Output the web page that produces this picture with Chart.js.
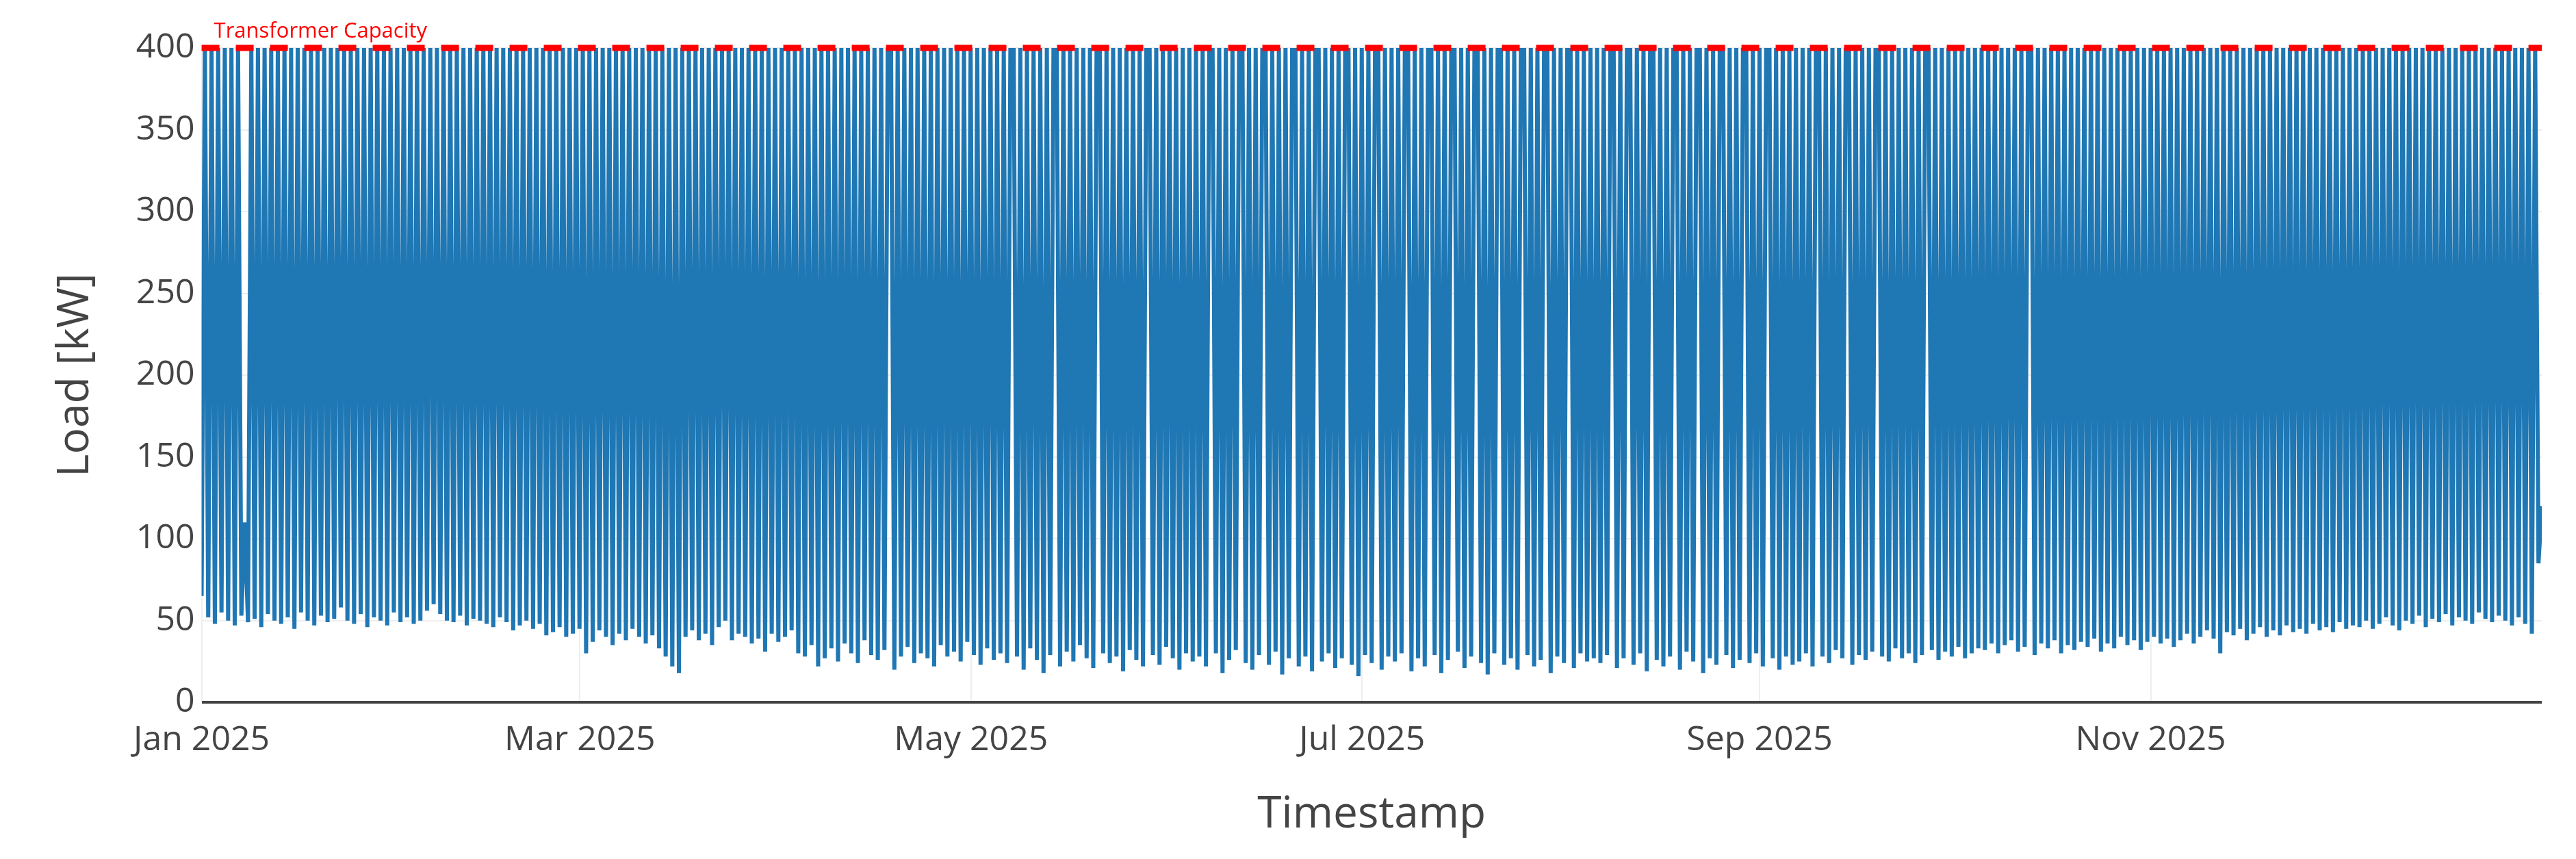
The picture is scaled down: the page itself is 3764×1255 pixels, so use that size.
<!DOCTYPE html>
<html><head><meta charset="utf-8">
<script src="https://cdn.jsdelivr.net/npm/chart.js@4/dist/chart.umd.min.js"></script>
<style>html,body{margin:0;background:#fff}#wrap{width:3764px;height:1255px}</style>
</head><body><div id="wrap"><canvas id="c"></canvas></div>
<script>
const capacity = 400;
const tickDays = [0, 59, 120, 181, 243, 304];
const tickLabels = ["Jan 2025","Mar 2025","May 2025","Jul 2025","Sep 2025","Nov 2025"];
// load samples (kW), roughly twice a day, read by eye
const jan = [65,400,52,400,48,400,55,400,50,400,47,400,53,110,49,400,51,400,46,400,54,400,50,400,48,400,52,400,45,400,55,400,50,400,47,400,53,400,49,400,51,400,58,400,50,400,48,400,54,400,46,400,52,400,50,400,47,400,55,400,49,400];
const feb = [52,400,48,400,50,400,56,400,60,400,54,400,50,400,49,400,53,400,47,400,51,400,50,400,48,400,46,400,52,400,49,400,44,400,47,400,50,400,45,400,48,400,41,400,43,400,46,400,40,400,42,400,45,400];
const mar = [30,400,37,400,44,400,40,400,35,400,42,400,38,400,45,400,40,400,36,400,41,400,33,400,28,400,22,400,18,400,40,400,44,400,38,400,42,400,35,400,46,400,50,400,38,400,42,400,40,400,36,400,39,400,31,400,42,400,37,400,40,400,44,400];
const apr = [30,400,28,400,35,400,22,400,27,400,33,400,25,400,36,400,30,400,24,400,38,400,29,400,26,400,32,400,400,20,400,28,400,34,400,24,400,30,400,27,400,22,400,35,400,28,400,31,400,25,400,37,400,29,400,23,400,33,400,26,400];
const may = [30,400,24,400,400,28,400,20,400,33,400,26,400,18,400,29,400,400,22,400,31,400,25,400,35,400,27,400,21,400,400,30,400,24,400,28,400,19,400,32,400,26,400,22,400,400,29,400,23,400,34,400,27,400,20,400,30,400,25,400];
const jun = [28,400,22,400,400,30,400,18,400,26,400,32,400,400,24,400,20,400,29,400,400,23,400,31,400,17,400,27,400,400,22,400,28,400,19,400,400,25,400,30,400,21,400,27,400,400,23,400,16,400,29,400,24,400,400,20,400,28,400];
const jul = [25,400,30,400,400,19,400,27,400,22,400,400,29,400,18,400,26,400,400,31,400,21,400,28,400,400,24,400,17,400,30,400,400,23,400,27,400,20,400,400,29,400,22,400,26,400,400,18,400,28,400,24,400,400,21,400,30,400,25,400,27,400];
const aug = [24,400,29,400,400,21,400,27,400,400,23,400,30,400,19,400,400,26,400,22,400,28,400,400,20,400,31,400,25,400,400,18,400,27,400,23,400,400,29,400,21,400,26,400,400,24,400,30,400,22,400,400,27,400,20,400,28,400,23,400];
const sep = [25,400,30,400,22,400,400,28,400,24,400,32,400,27,400,400,23,400,29,400,26,400,31,400,400,28,400,25,400,33,400,27,400,30,400,24,400,29,400,400,32,400,26,400,31,400,28,400,34,400,27,400,30,400,33,400];
const oct = [32,400,36,400,30,400,35,400,38,400,31,400,34,400,400,29,400,36,400,33,400,38,400,30,400,35,400,32,400,37,400,34,400,39,400,31,400,36,400,33,400,40,400,35,400,38,400,32,400,37,400,40,400,36,400,39,400,34,400];
const nov = [38,400,42,400,36,400,40,400,44,400,39,400,30,400,43,400,41,400,45,400,38,400,42,400,46,400,40,400,44,400,41,400,47,400,43,400,45,400,42,400,48,400,44,400,46,400,43,400,49,400,45,400,47,400];
const dec = [46,400,50,400,45,400,48,400,52,400,47,400,44,400,50,400,48,400,53,400,46,400,51,400,49,400,54,400,47,400,52,400,50,400,48,400,55,400,51,400,49,400,53,400,50,400,47,400,52,400,48,400,42,400,85,120];

const loads = [].concat(jan,feb,mar,apr,may,jun,jul,aug,sep,oct,nov,dec);
const step = 365 / (loads.length - 1);
const loadPts = loads.map((v,i)=>({x:i*step, y:v}));
const capPts = [{x:0,y:capacity},{x:365,y:capacity}];

const font = "'Open Sans', 'Noto Sans', sans-serif";
const capLabel = {
  id:'capLabel',
  afterDatasetsDraw(ch){
    const {ctx, scales:{x,y}} = ch;
    ctx.save();
    ctx.fillStyle = '#ff0000';
    ctx.font = "31px " + font;
    ctx.textBaseline = 'bottom';
    ctx.fillText('Transformer Capacity', x.getPixelForValue(0)+18, y.getPixelForValue(capacity)-8);
    ctx.restore();
  }
};

new Chart(document.getElementById('c'), {
  type:'line',
  data:{datasets:[
    {data:loadPts, borderColor:'#1f77b4', borderWidth:6, pointRadius:0, tension:0, borderJoinStyle:'miter', order:2},
    {data:capPts, borderColor:'#ff0000', borderWidth:9, borderDash:[26,24], pointRadius:0, clip:false, order:1}
  ]},
  options:{
    responsive:true, maintainAspectRatio:false, animation:false,
    layout:{padding:{top:70,right:50,left:68,bottom:22}},
    plugins:{legend:{display:false}, tooltip:{enabled:false}},
    scales:{
      x:{type:'linear', min:0, max:365,
        afterBuildTicks(ax){ ax.ticks = tickDays.map(v=>({value:v})); },
        ticks:{autoSkip:false, maxRotation:0, color:'#444', font:{family:font,size:50}, padding:26,
          callback(v){ const k=tickDays.indexOf(v); return k>=0?tickLabels[k]:''; }},
        grid:{color:'#eeeeee', lineWidth:2, drawTicks:false},
        border:{display:false},
        title:{display:true, text:'Timestamp', color:'#444', font:{family:font,size:64}, padding:{top:14}}
      },
      y:{min:0, max:400,
        ticks:{stepSize:50, color:'#444', font:{family:font,size:50}, padding:10},
        grid:{color:(c)=>c.tick.value===0?'#444':'#eeeeee', lineWidth:(c)=>c.tick.value===0?4:2, drawTicks:false},
        border:{display:false},
        title:{display:true, text:'Load [kW]', color:'#444', font:{family:font,size:64}, padding:{bottom:40}}
      }
    }
  },
  plugins:[capLabel]
});
</script></body></html>
